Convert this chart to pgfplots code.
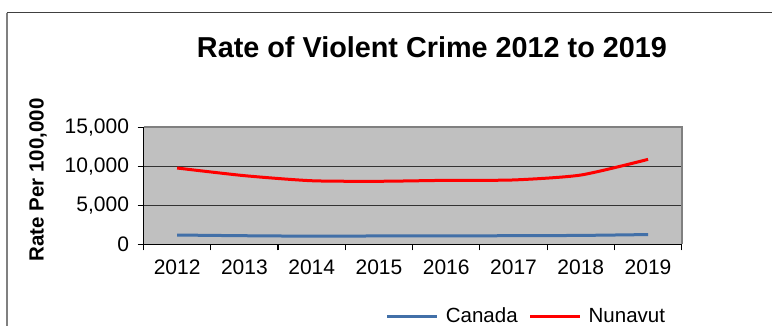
\documentclass[border=0pt]{standalone}
\usepackage{fontspec}
\setmainfont{Liberation Sans}
\usepackage{pgfplots}
\pgfplotsset{compat=1.18}
\definecolor{canblue}{HTML}{4270A8}
\definecolor{plotgray}{HTML}{C0C0C0}
\definecolor{framegray}{HTML}{808080}
\begin{document}
\begin{tikzpicture}[x=1pt,y=1pt]
\clip (0,0) rectangle (772,-325);
\useasboundingbox (0,0) rectangle (772,-325);
% outer chart frame
\draw[framegray, line width=2pt] (6.5,-12.5) -- (6.5,-340);
\draw[black!75, line width=1.6pt] (6.5,-12.5) -- (800,-12.5);
% title
\node[anchor=base, font=\fontsize{28.8}{32}\selectfont\bfseries] at (432,-57) {Rate of Violent Crime 2012 to 2019};
% y label
\node[rotate=90, anchor=center, font=\fontsize{20.5}{24}\selectfont\bfseries] at (38,-180) {Rate Per 100,000};
\begin{axis}[
  at={(143.5pt,-244.3pt)}, anchor=south west,
  scale only axis, width=538.2pt, height=117pt,
  xmin=-0.5, xmax=7.5, ymin=0, ymax=15000,
  axis background/.style={fill=plotgray},
  axis line style={draw=none},
  xtick={0,...,7},
  xticklabels={2012,2013,2014,2015,2016,2017,2018,2019},
  minor xtick={-0.5,0.5,...,7.5},
  ytick={0,5000,10000,15000},
  xtick pos=bottom, ytick pos=left,
  tick align=outside,
  major x tick style={draw=none},
  minor x tick style={black, line width=1.2pt},
  major y tick style={black, line width=1.2pt},
  major tick length=6pt, minor tick length=6pt,
  ymajorgrids, major grid style={black!80, line width=1.1pt},
  scaled y ticks=false,
  /pgf/number format/.cd, 1000 sep={,}, assume math mode=true,
  /pgfplots/.cd,
  ticklabel style={font=\fontsize{21}{24}\selectfont},
  yticklabel style={xshift=-5pt},
  xticklabel style={yshift=-6pt},
  legend columns=2,
  legend cell align=left,
  legend style={at={(rel axis cs:0.45,-0.613)}, anchor=west, draw=none, fill=none,
    font=\fontsize{20.5}{24}\selectfont, inner sep=0pt,
    /tikz/every even column/.append style={column sep=9pt}},
  legend image code/.code={\draw[#1] (0pt,0pt) -- (50pt,0pt); \path (55pt,0pt);},
  after end axis/.code={
    \draw[framegray, line width=2.2pt] (rel axis cs:0,1) -- (rel axis cs:1,1) -- (rel axis cs:1,0);
    \draw[black, line width=1.3pt] (rel axis cs:0,1) -- (rel axis cs:0,0) -- (rel axis cs:1,0);
  },
]
\addplot[canblue, line width=3pt, smooth, tension=0.4] coordinates {
 (0,1190) (1,1100) (2,1045) (3,1070) (4,1075) (5,1105) (6,1140) (7,1250)};
\addlegendentry{Canada}
\addplot[red, line width=3pt, smooth, tension=0.4] coordinates {
 (0,9780) (1,8800) (2,8150) (3,8080) (4,8200) (5,8250) (6,8880) (7,10890)};
\addlegendentry{Nunavut}
\end{axis}
\end{tikzpicture}
\end{document}
